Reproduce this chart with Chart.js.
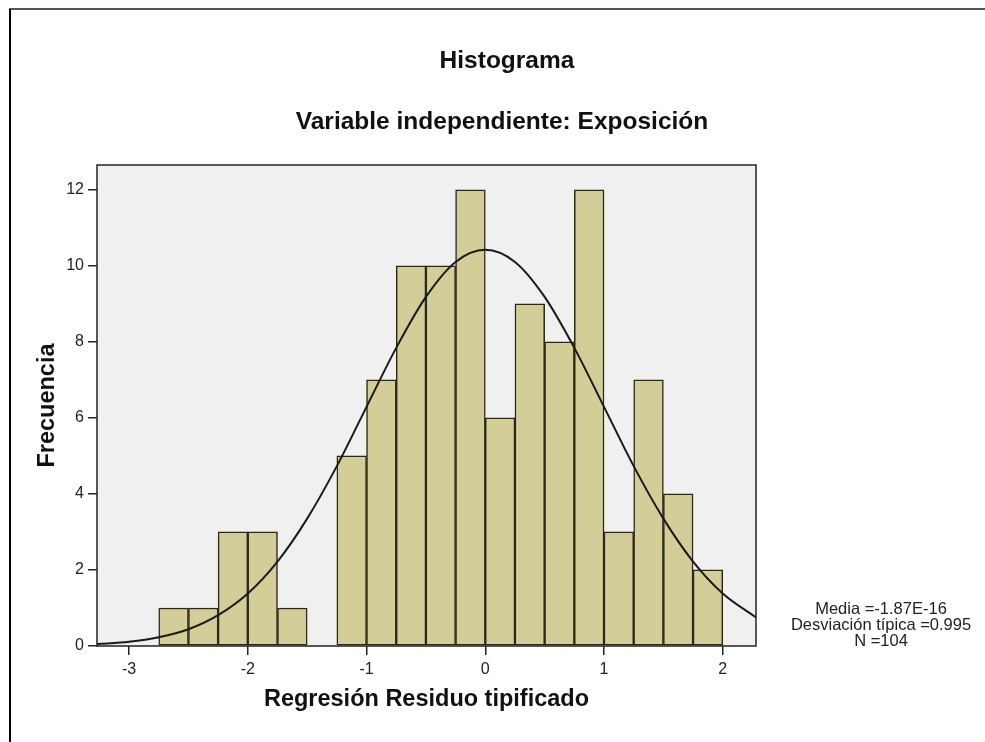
<!DOCTYPE html>
<html>
<head>
<meta charset="utf-8">
<script src="https://cdn.jsdelivr.net/npm/chart.js@4.4.1/dist/chart.umd.min.js"></script>
<style>
  html, body { margin: 0; padding: 0; background: #ffffff; }
  #wrap { width: 985px; height: 742px; }
</style>
</head>
<body>
<div id="wrap"><canvas id="c" width="985" height="742"></canvas></div>
<script>
// ---- Data ----
const titleText = "Histograma";
const subtitleText = "Variable independiente: Exposición";
const xAxisTitle = "Regresión Residuo tipificado";
const yAxisTitle = "Frecuencia";
const statsLines = ["Media =-1.87E-16", "Desviación típica =0.995", "N =104"];

// histogram bins (centres of bins of width 0.25) and their frequencies
const binCenters = [-2.625, -2.375, -2.125, -1.875, -1.625, -1.375, -1.125, -0.875, -0.625, -0.375,
                    -0.125, 0.125, 0.375, 0.625, 0.875, 1.125, 1.375, 1.625, 1.875];
const frequencies = [1, 1, 3, 3, 1, 0, 5, 7, 10, 10, 12, 6, 9, 8, 12, 3, 7, 4, 2];

// normal curve
const curveX = [-3.27, -3.0, -2.75, -2.5, -2.25, -2.0, -1.75, -1.5, -1.25, -1.0, -0.75, -0.5, -0.25, 0,
                0.25, 0.5, 0.75, 1.0, 1.25, 1.5, 1.75, 2.0, 2.28];
const curveY = [0.05, 0.11, 0.23, 0.44, 0.81, 1.38, 2.22, 3.35, 4.73, 6.29, 7.84, 9.18, 10.10, 10.42,
                10.10, 9.18, 7.84, 6.29, 4.73, 3.35, 2.22, 1.38, 0.75];

const xTicks = [-3, -2, -1, 0, 1, 2];
const yTicks = [0, 2, 4, 6, 8, 10, 12];

// ---- Chart ----
const FONT = "'Liberation Sans', Arial, Helvetica, sans-serif";

const framePlugin = {
  id: 'frame',
  beforeDraw(chart) {
    const ctx = chart.ctx;
    const a = chart.chartArea;
    ctx.save();
    ctx.fillStyle = '#ffffff';
    ctx.fillRect(0, 0, chart.width, chart.height);
    // outer image border (top and left)
    ctx.fillStyle = '#555555';
    ctx.fillRect(9, 8, chart.width - 9, 2);
    ctx.fillStyle = '#000000';
    ctx.fillRect(9, 9, 2, chart.height - 9);
    // plot background
    ctx.fillStyle = '#F0F0F0';
    ctx.fillRect(a.left, a.top, a.right - a.left, a.bottom - a.top);
    // titles
    ctx.fillStyle = '#111111';
    ctx.textAlign = 'center';
    ctx.textBaseline = 'alphabetic';
    ctx.font = "bold 24.5px " + FONT;
    ctx.fillText(titleText, 507, 68);
    ctx.fillText(subtitleText, 502, 129);
    // statistics
    ctx.font = "16.5px " + FONT;
    ctx.fillStyle = '#222222';
    statsLines.forEach((t, i) => ctx.fillText(t, 881, 614 + i * 16));
    ctx.restore();
  },
  afterDraw(chart) {
    const ctx = chart.ctx;
    const a = chart.chartArea;
    ctx.save();
    ctx.strokeStyle = '#222222';
    ctx.lineWidth = 1.5;
    ctx.strokeRect(a.left, a.top, a.right - a.left, a.bottom - a.top);
    ctx.restore();
  }
};

new Chart(document.getElementById('c'), {
  type: 'bar',
  data: {
    datasets: [
      {
        type: 'line',
        label: 'Normal',
        data: curveX.map((x, i) => ({ x: x, y: curveY[i] })),
        borderColor: '#1a1a1a',
        borderWidth: 2,
        pointRadius: 0,
        fill: false,
        cubicInterpolationMode: 'monotone',
        order: 0
      },
      {
        type: 'bar',
        label: 'Frecuencia',
        data: binCenters.map((x, i) => ({ x: x, y: frequencies[i] })),
        backgroundColor: '#D3CD98',
        borderColor: '#2a2818',
        borderWidth: 1.5,
        borderSkipped: false,
        barPercentage: 1.0,
        categoryPercentage: 1.0,
        order: 1
      }
    ]
  },
  options: {
    responsive: false,
    devicePixelRatio: 1,
    animation: false,
    layout: { padding: { left: 0, top: 165, right: 229, bottom: 0 } },
    plugins: {
      legend: { display: false },
      tooltip: { enabled: false },
      title: { display: false }
    },
    scales: {
      x: {
        type: 'linear',
        min: -3.27,
        max: 2.28,
        offset: false,
        afterFit(scale) { scale.height = 96; },
        afterBuildTicks(scale) { scale.ticks = xTicks.map(v => ({ value: v })); },
        ticks: {
          includeBounds: false,
          color: '#222222',
          font: { family: FONT, size: 16 },
          padding: 5,
          maxRotation: 0
        },
        grid: {
          display: true,
          offset: false,
          drawOnChartArea: false,
          drawTicks: true,
          tickLength: 9,
          color: '#222222',
          lineWidth: 1.5
        },
        border: { display: false },
        title: {
          display: true,
          text: xAxisTitle,
          color: '#111111',
          font: { family: FONT, size: 23.5, weight: 'bold' },
          padding: { top: 0, bottom: 28 }
        }
      },
      y: {
        type: 'linear',
        min: 0,
        max: 12.65,
        afterFit(scale) { scale.width = 97; },
        afterBuildTicks(scale) { scale.ticks = yTicks.map(v => ({ value: v })); },
        ticks: {
          includeBounds: false,
          color: '#222222',
          font: { family: FONT, size: 16 },
          padding: 4
        },
        grid: {
          display: true,
          drawOnChartArea: false,
          drawTicks: true,
          tickLength: 9,
          color: '#222222',
          lineWidth: 1.5
        },
        border: { display: false },
        title: {
          display: true,
          text: yAxisTitle,
          color: '#111111',
          font: { family: FONT, size: 23.5, weight: 'bold' },
          padding: { top: 33, bottom: 0 }
        }
      }
    }
  },
  plugins: [framePlugin]
});
</script>
</body>
</html>
